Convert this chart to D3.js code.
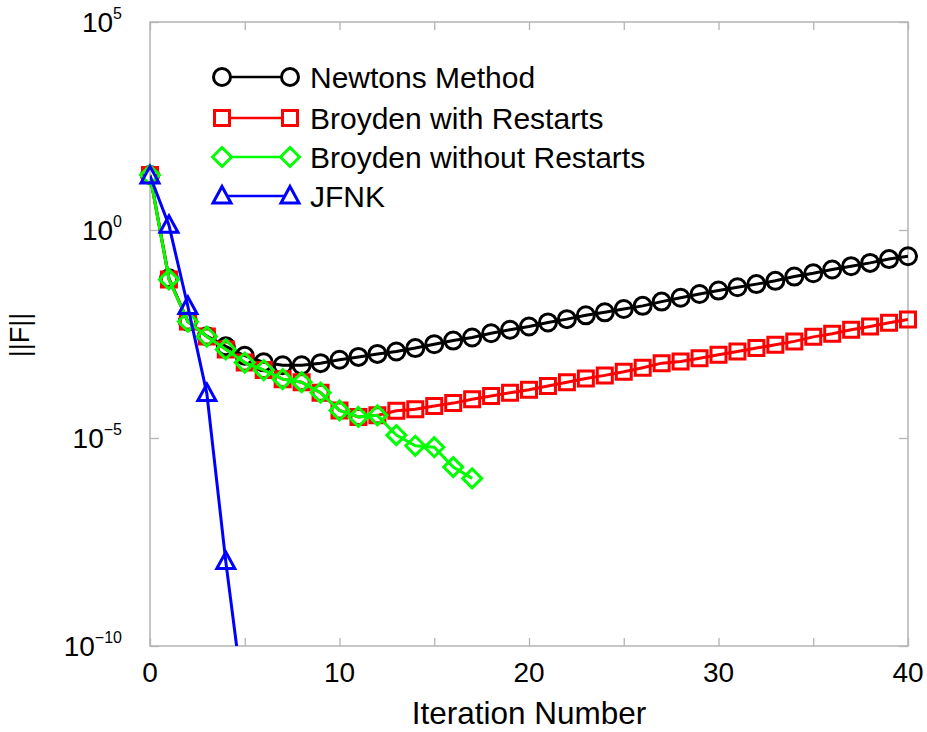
<!DOCTYPE html>
<html lang="en">
<head>
    <meta charset="UTF-8">
    <title>Convergence of ||F||</title>
    <script src="https://d3js.org/d3.v7.min.js"></script>
    <style>
        body { margin: 0; background: #fff; }
        svg text { font-family: "Liberation Sans", Arial, Helvetica, sans-serif; fill: #000; }
    </style>
</head>
<body>
    <svg id="chart" width="927" height="732"></svg>

    <script>
        // iteration numbers
        const iterations = d3.range(0, 41);

        // ||F|| per iteration
        const newton = [21, 0.069, 6.3e-3, 2.8e-3, 1.6e-3, 9.5e-4, 6.6e-4, 5.6e-4, 5.6e-4, 6.3e-4,
            7.6e-4, 8.9e-4, 1.05e-3, 1.2e-3, 1.45e-3, 1.8e-3, 2.2e-3, 2.6e-3, 3.3e-3, 4.0e-3,
            4.8e-3, 6.0e-3, 7.2e-3, 8.9e-3, 1.05e-2, 1.26e-2, 1.5e-2, 1.9e-2, 2.35e-2, 2.9e-2,
            3.5e-2, 4.2e-2, 5.0e-2, 6.0e-2, 7.6e-2, 9.1e-2, 0.112, 0.135, 0.162, 0.20, 0.234];
        const broydenRestart = [21, 0.065, 6.3e-3, 2.75e-3, 1.35e-3, 6.5e-4, 4.3e-4, 2.6e-4, 2.2e-4, 1.23e-4,
            4.6e-5, 3.2e-5, 3.5e-5, 4.5e-5, 4.9e-5, 5.9e-5, 6.9e-5, 8.5e-5, 1.02e-4, 1.23e-4,
            1.45e-4, 1.78e-4, 2.2e-4, 2.7e-4, 3.2e-4, 3.9e-4, 4.9e-4, 6.3e-4, 6.9e-4, 8.3e-4,
            1.0e-3, 1.2e-3, 1.45e-3, 1.74e-3, 2.1e-3, 2.7e-3, 3.2e-3, 4.0e-3, 4.8e-3, 5.9e-3, 7.1e-3];
        const broydenNoRestart = [21, 0.065, 6.3e-3, 2.75e-3, 1.35e-3, 6.5e-4, 4.3e-4, 2.6e-4, 2.2e-4, 1.23e-4,
            4.6e-5, 3.2e-5, 3.5e-5, 1.17e-5, 6.5e-6, 6.0e-6, 2.0e-6, 1.07e-6];
        const jfnk = [20, 1.3, 0.0145, 1.17e-4, 1.07e-8, 3e-12];

        const seriesNames = ["Newtons Method", "Broyden with Restarts", "Broyden without Restarts", "JFNK"];
        const seriesColors = ["#000000", "#ff0000", "#00ff00", "#0000ff"];
        const seriesShapes = ["circle", "square", "diamond", "triangle"];
        const seriesValues = [newton, broydenRestart, broydenNoRestart, jfnk];

        const xTicks = [0, 10, 20, 30, 40];
        const xMinorTicks = [5, 15, 25, 35];
        const yTicks = [1e5, 1e0, 1e-5, 1e-10];
        const yTickExp = ["5", "0", "\u22125", "\u221210"];

        const svg = d3.select("#chart");
        const plotLeft = 150, plotRight = 908, plotTop = 22, plotBottom = 646;

        const x = d3.scaleLinear().domain([0, 40]).range([plotLeft, plotRight]);
        const y = d3.scaleLog().domain([1e-10, 1e5]).range([plotBottom, plotTop]);

        const frameColor = "#b4b4b4";

        // axes: ticks pointing inward on all four sides
        const axes = svg.append("g").attr("class", "axes");
        function styleAxis(g) {
            g.select(".domain").remove();
            g.selectAll(".tick line").attr("stroke", frameColor).attr("stroke-width", 1.3);
            g.selectAll(".tick text").remove();
        }
        const allX = xTicks.concat(xMinorTicks);
        axes.append("g").attr("transform", `translate(0,${plotBottom})`)
            .call(d3.axisBottom(x).tickValues(allX).tickSize(-8)).call(styleAxis);
        axes.append("g").attr("transform", `translate(0,${plotTop})`)
            .call(d3.axisTop(x).tickValues(allX).tickSize(-8)).call(styleAxis);
        axes.append("g").attr("transform", `translate(${plotLeft},0)`)
            .call(d3.axisLeft(y).tickValues(yTicks).tickSize(-9)).call(styleAxis);
        axes.append("g").attr("transform", `translate(${plotRight},0)`)
            .call(d3.axisRight(y).tickValues(yTicks).tickSize(-9)).call(styleAxis);

        axes.append("rect")
            .attr("x", plotLeft).attr("y", plotTop)
            .attr("width", plotRight - plotLeft).attr("height", plotBottom - plotTop)
            .attr("fill", "none").attr("stroke", frameColor).attr("stroke-width", 1.5);

        // x tick labels
        svg.append("g").selectAll("text").data(xTicks).join("text")
            .attr("x", d => x(d)).attr("y", plotBottom + 36)
            .attr("text-anchor", "middle").attr("font-size", 28)
            .text(d => d);

        // y tick labels as 10^n
        const yl = svg.append("g").selectAll("text").data(yTicks).join("text")
            .attr("x", 122).attr("y", d => y(d) + 10)
            .attr("text-anchor", "end").attr("font-size", 28);
        yl.append("tspan").text("10");
        yl.append("tspan").attr("dy", -13).attr("font-size", 16).text((d, i) => yTickExp[i]);

        // axis titles
        svg.append("text")
            .attr("x", 529).attr("y", 724)
            .attr("text-anchor", "middle").attr("font-size", 31.5)
            .text("Iteration Number");
        svg.append("text")
            .attr("transform", "translate(29,335) rotate(-90)")
            .attr("text-anchor", "middle").attr("font-size", 27)
            .text("||F||");

        // clip lines to the axes box
        svg.append("clipPath").attr("id", "plotClip")
            .append("rect").attr("x", plotLeft).attr("y", plotTop)
            .attr("width", plotRight - plotLeft).attr("height", plotBottom - plotTop);

        function markerPath(shape) {
            if (shape === "circle") return "M8.5,0A8.5,8.5 0 1,1 -8.5,0A8.5,8.5 0 1,1 8.5,0Z";
            if (shape === "square") return "M-7.5,-7.5H7.5V7.5H-7.5Z";
            if (shape === "diamond") return "M0,-9.5L9.5,0L0,9.5L-9.5,0Z";
            return "M0,-9.5L9,7H-9Z";
        }

        const line = d3.line().x(d => x(d.it)).y(d => y(d.v));

        seriesValues.forEach((vals, s) => {
            const pts = vals.map((v, i) => ({ it: iterations[i], v: v }));
            const g = svg.append("g");
            g.append("path").datum(pts)
                .attr("clip-path", "url(#plotClip)")
                .attr("fill", "none").attr("stroke", seriesColors[s])
                .attr("stroke-width", 3).attr("d", line);
            g.selectAll("path.mk").data(pts.filter(d => d.v >= 1e-10)).join("path")
                .attr("class", "mk")
                .attr("transform", d => `translate(${x(d.it)},${y(d.v)})`)
                .attr("d", markerPath(seriesShapes[s]))
                .attr("fill", "none").attr("stroke", seriesColors[s]).attr("stroke-width", 3);
        });

        // legend
        const legendY = [77, 118, 157, 196];
        const lg = svg.append("g");
        seriesNames.forEach((name, s) => {
            const row = lg.append("g").attr("transform", `translate(0,${legendY[s]})`);
            row.append("line").attr("x1", 222).attr("x2", 290)
                .attr("stroke", seriesColors[s]).attr("stroke-width", 2.5);
            [222, 290].forEach(px => {
                row.append("path").attr("transform", `translate(${px},0)`)
                    .attr("d", markerPath(seriesShapes[s]))
                    .attr("fill", "#fff").attr("stroke", seriesColors[s]).attr("stroke-width", 3);
            });
            row.append("text").attr("x", 310).attr("y", 11)
                .attr("font-size", 30).text(name);
        });
    </script>
</body>
</html>
